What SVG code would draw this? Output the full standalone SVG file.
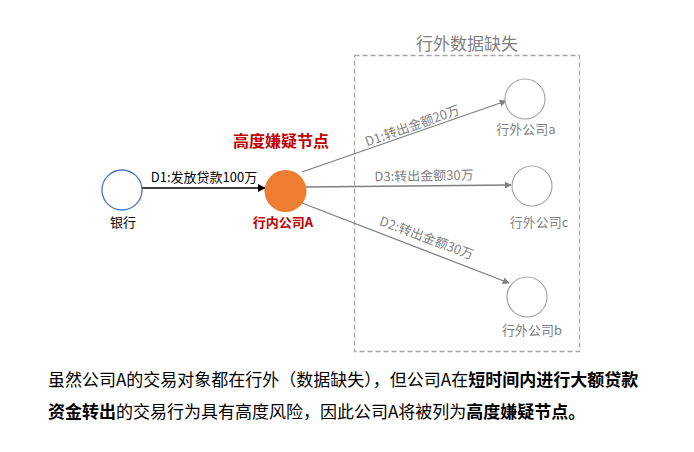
<svg xmlns="http://www.w3.org/2000/svg" width="694" height="452" viewBox="0 0 694 452">
<defs>
<style>
text{font-family:"Noto Sans CJK SC","Liberation Sans",sans-serif;}
.lbl{font-size:13px;fill:#7f7f7f;text-anchor:middle;dominant-baseline:central;}
.ext{fill:#fff;stroke:#a6a6a6;stroke-width:1.2;}
.edge{stroke:#7f7f7f;stroke-width:1.3;fill:none;marker-end:url(#ag);}
.body{font-size:17px;fill:#000;}
.b{font-weight:bold;}
</style>
<marker id="ag" viewBox="0 0 10 10" refX="9" refY="5" markerWidth="7" markerHeight="7" markerUnits="userSpaceOnUse" orient="auto"><path d="M0,0 L10,5 L0,10 z" fill="#7f7f7f"/></marker>
<marker id="ak" viewBox="0 0 10 10" refX="9" refY="5" markerWidth="8" markerHeight="8" markerUnits="userSpaceOnUse" orient="auto"><path d="M0,0 L10,5 L0,10 z" fill="#000"/></marker>
</defs>
<rect width="694" height="452" fill="#fff"/>
<g id="group-outside">
<rect x="354.5" y="55.5" width="225" height="296" fill="none" stroke="#a6a6a6" stroke-width="1.3" stroke-dasharray="5,3"/>
<text x="467" y="42" font-size="17" fill="#7f7f7f" text-anchor="middle" dominant-baseline="central">行外数据缺失</text>
</g>
<g id="connectors">
<line x1="142" y1="188" x2="265" y2="188" stroke="#000" stroke-width="1.3" marker-end="url(#ak)"/>
<text x="204" y="176" font-size="13" fill="#000" text-anchor="middle" dominant-baseline="central">D1:发放贷款100万</text>
<line class="edge" x1="302" y1="172" x2="506" y2="101"/>
<text class="lbl" transform="translate(412,125) rotate(-19.3)" x="0" y="0">D1:转出金额20万</text>
<line class="edge" x1="306" y1="187" x2="511" y2="185"/>
<text class="lbl" transform="translate(424,175) rotate(-1)" x="0" y="0">D3:转出金额30万</text>
<line class="edge" x1="302" y1="203" x2="509" y2="283"/>
<text class="lbl" transform="translate(427,237) rotate(20.5)" x="0" y="0">D2:转出金额30万</text>
</g>
<g id="node-bank">
<circle cx="122" cy="190" r="20" fill="#fff" stroke="#4472c4" stroke-width="1.3"/>
<text x="123" y="221" font-size="13" fill="#000" text-anchor="middle" dominant-baseline="central">银行</text>
</g>
<g id="node-A">
<text x="281" y="140" font-size="16" font-weight="bold" fill="#c00000" text-anchor="middle" dominant-baseline="central">高度嫌疑节点</text>
<circle cx="285.5" cy="191" r="21" fill="#ed7d31"/>
<text x="283" y="221" font-size="13" font-weight="bold" fill="#c00000" text-anchor="middle" dominant-baseline="central">行内公司A</text>
</g>
<g id="node-a">
<circle class="ext" cx="525" cy="99" r="20"/>
<text class="lbl" x="526" y="128">行外公司a</text>
</g>
<g id="node-c">
<circle class="ext" cx="532" cy="186" r="20"/>
<text class="lbl" x="539" y="221">行外公司c</text>
</g>
<g id="node-b">
<circle class="ext" cx="527" cy="297" r="20"/>
<text class="lbl" x="532" y="329">行外公司b</text>
</g>
<g id="caption">
<text class="body" x="48" y="378" dominant-baseline="central">虽然公司A的交易对象都在行外（数据缺失），但公司A在<tspan class="b">短时间内进行大额贷款</tspan></text>
<text class="body" x="48" y="410" dominant-baseline="central"><tspan class="b">资金转出</tspan>的交易行为具有高度风险，因此公司A将被列为<tspan class="b">高度嫌疑节点。</tspan></text>
</g>
</svg>
